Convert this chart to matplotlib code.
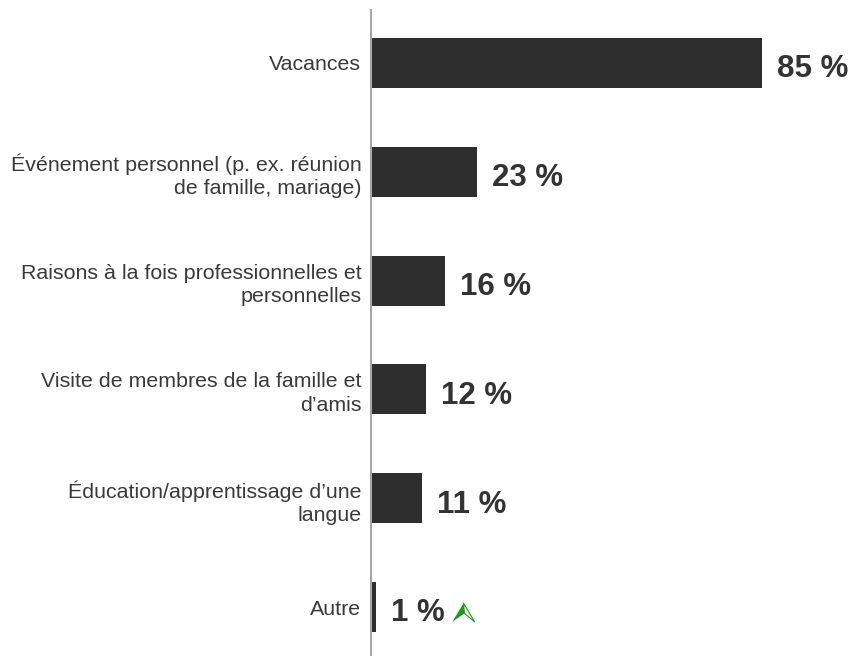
import matplotlib.pyplot as plt
from matplotlib.path import Path

plt.rcParams['font.family'] = ['Liberation Sans', 'DejaVu Sans']

# Données
categories = [
    "Vacances",
    "Événement personnel (p. ex. réunion\nde famille, mariage)",
    "Raisons à la fois professionnelles et\npersonnelles",
    "Visite de membres de la famille et\nd’amis",
    "Éducation/apprentissage d’une\nlangue",
    "Autre",
]
valeurs = [85, 23, 16, 12, 11, 1]
etiquettes = ["85 %", "23 %", "16 %", "12 %", "11 %", "1 %"]
hausse = [False, False, False, False, False, True]  # flèche verte

fig = plt.figure(figsize=(8.54, 6.58), dpi=100)
ax = fig.add_axes([371 / 854, 3 / 658, 1 - 371 / 854, 645 / 658])

pos = list(range(len(categories)))
ax.barh(pos, valeurs, height=0.46, color='#2e2e2e')
ax.set_xlim(0, 105)
ax.set_ylim(len(categories) - 1 + 0.44, -0.486)

ax.set_yticks(pos)
ax.set_yticklabels(categories, fontsize=15.4, color='#3a3a3a', ha='right',
                   linespacing=1.3)
ax.tick_params(axis='y', length=0, pad=7)
ax.set_xticks([])
for s in ['top', 'right', 'bottom']:
    ax.spines[s].set_visible(False)
ax.spines['left'].set_color('#a6a6a6')
ax.spines['left'].set_linewidth(1.5)

textes = []
for i, (v, lab) in enumerate(zip(valeurs, etiquettes)):
    t = ax.annotate(lab, (v, i), xytext=(11, -4.5), textcoords='offset points',
                    fontsize=22.5, fontweight='bold', color='#333333',
                    va='center', ha='left')
    textes.append(t)

# flèche verte : moitié gauche pleine, moitié droite en contour
gauche = Path([(0, 1), (0.1, -0.1), (-1.2, -1), (0, 1)],
              [Path.MOVETO, Path.LINETO, Path.LINETO, Path.CLOSEPOLY])
droite = Path([(0, 1), (1.2, -1), (0.1, -0.1), (0, 1)],
              [Path.MOVETO, Path.LINETO, Path.LINETO, Path.CLOSEPOLY])

fig.canvas.draw()
r = fig.canvas.get_renderer()
for t, h, i in zip(textes, hausse, pos):
    if not h:
        continue
    bb = t.get_window_extent(r)
    px = bb.x1 + 18
    py = (bb.y0 + bb.y1) / 2 + 1
    x, y = ax.transData.inverted().transform((px, py))
    ax.plot(x, y, marker=droite, markersize=16, markerfacecolor='white',
            markeredgecolor='#1a9a1a', mew=0.8, clip_on=False)
    ax.plot(x, y, marker=gauche, markersize=16, color='#1a9a1a', mew=0,
            clip_on=False)

fig.savefig('out.png', dpi=100)
